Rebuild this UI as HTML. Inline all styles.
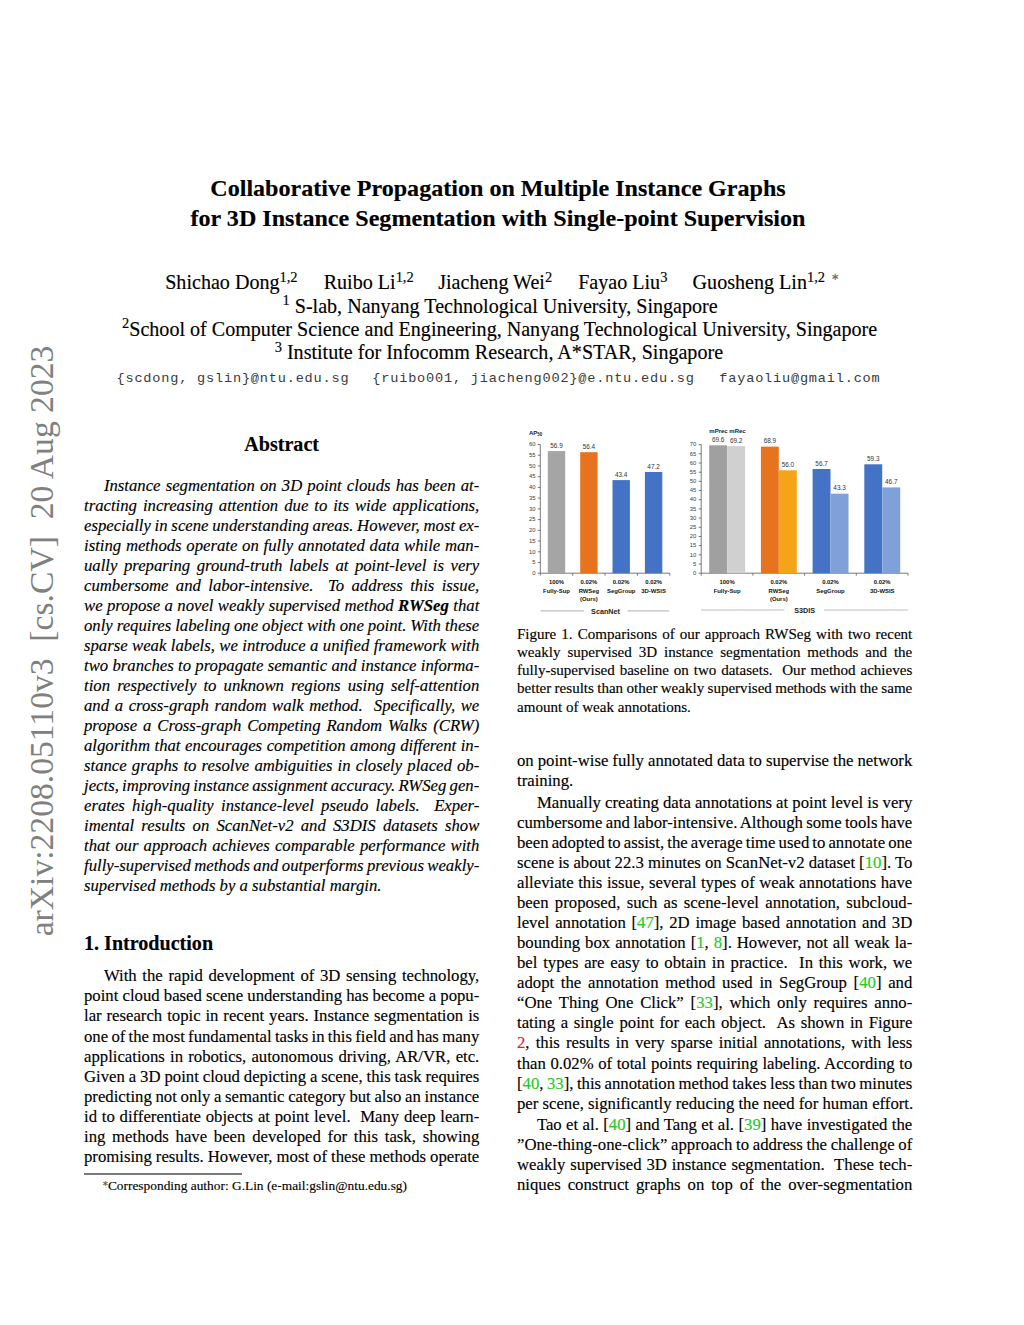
<!DOCTYPE html><html><head><meta charset="utf-8"><style>
html,body{margin:0;padding:0;background:#fff}
body{width:1024px;height:1325px;position:relative;overflow:hidden;color:#000}
.s{position:absolute;font-family:"Liberation Serif",serif;line-height:0;white-space:nowrap;-webkit-text-stroke-width:0.15px}
.b{font-weight:bold}
.i{font-style:italic}
.c{text-align:center}
.j{text-align:justify;text-align-last:justify}
.m{position:absolute;font-family:"Liberation Mono",monospace;line-height:0;white-space:pre;color:#3a3a3a}
sup{font-size:72%;vertical-align:0;position:relative;top:-0.52em;line-height:0}
.star{font-size:48%;position:relative;top:-0.9em;margin-left:6px;color:#666}
.fs{font-size:58%;position:relative;top:-0.5em;color:#555;letter-spacing:-0.6px}
.g{color:#22cc22}
.r{color:#d41f3a}
.rule{position:absolute;height:1.7px;background:#7a7a7a}
.arx{position:absolute;left:0;top:0;font-family:"Liberation Serif",serif;font-size:33.62px;color:#808080;white-space:pre;line-height:0;
 transform-origin:0 0;transform:translate(42.2px,936.3px) rotate(-90deg)}
.ch{position:absolute;left:0;top:0}
.ch text{font-family:"Liberation Sans",sans-serif}
.ax{stroke:#6a6a6a;stroke-width:0.9}
.sep{stroke:#bfbfbf;stroke-width:1.2}
.yl{font-size:5.9px;fill:#3c3c3c;text-anchor:end}
.vl{font-size:6.4px;fill:#333;text-anchor:middle}
.xl{font-size:5.9px;fill:#111;text-anchor:middle;font-weight:bold}
.hd{font-size:6px;fill:#222;font-weight:bold}
.dn{font-size:7.2px;fill:#222;text-anchor:middle;font-weight:bold}
</style></head><body>
<div class="s b c" style="left:84.00px;top:188.27px;font-size:24.09px;width:828.00px;">Collaborative Propagation on Multiple Instance Graphs</div>
<div class="s b c" style="left:84.00px;top:217.97px;font-size:24.09px;width:828.00px;">for 3D Instance Segmentation with Single-point Supervision</div>
<div class="s" style="left:165.20px;top:282.12px;font-size:20.08px;">Shichao Dong<sup>1,2</sup></div>
<div class="s" style="left:323.70px;top:282.12px;font-size:20.08px;">Ruibo Li<sup>1,2</sup></div>
<div class="s" style="left:438.20px;top:282.12px;font-size:20.08px;">Jiacheng Wei<sup>2</sup></div>
<div class="s" style="left:578.20px;top:282.12px;font-size:20.08px;">Fayao Liu<sup>3</sup></div>
<div class="s" style="left:692.60px;top:282.12px;font-size:20.08px;">Guosheng Lin<sup>1,2</sup><span class="star">∗</span></div>
<div class="s" style="left:282.50px;top:305.52px;font-size:20.08px;"><sup>1</sup> S-lab, Nanyang Technological University, Singapore</div>
<div class="s" style="left:122.00px;top:328.62px;font-size:20.08px;"><sup>2</sup>School of Computer Science and Engineering, Nanyang Technological University, Singapore</div>
<div class="s" style="left:274.70px;top:352.32px;font-size:20.08px;"><sup>3</sup> Institute for Infocomm Research, A*STAR, Singapore</div>
<div class="m" style="left:116.50px;top:378.68px;font-size:13.60px;letter-spacing:0.80px">{scdong, gslin}@ntu.edu.sg</div>
<div class="m" style="left:372.30px;top:378.68px;font-size:13.60px;letter-spacing:0.80px">{ruibo001, jiacheng002}@e.ntu.edu.sg</div>
<div class="m" style="left:719.30px;top:378.68px;font-size:13.60px;letter-spacing:0.80px">fayaoliu@gmail.com</div>
<div class="arx">arXiv:2208.05110v3  [cs.CV]  20 Aug 2023</div>
<div class="s b c" style="left:84.00px;top:443.82px;font-size:20.08px;width:395.30px;">Abstract</div>
<div class="s i j" style="left:103.90px;top:485.85px;font-size:16.73px;width:375.40px;">Instance segmentation on 3D point clouds has been at-</div>
<div class="s i j" style="left:84.00px;top:505.87px;font-size:16.73px;width:395.30px;">tracting increasing attention due to its wide applications,</div>
<div class="s i j" style="left:84.00px;top:525.88px;font-size:16.73px;width:395.30px;word-spacing:-0.82px;">especially in scene understanding areas. However, most ex-</div>
<div class="s i j" style="left:84.00px;top:545.90px;font-size:16.73px;width:395.30px;">isting methods operate on fully annotated data while man-</div>
<div class="s i j" style="left:84.00px;top:565.91px;font-size:16.73px;width:395.30px;">ually preparing ground-truth labels at point-level is very</div>
<div class="s i j" style="left:84.00px;top:585.93px;font-size:16.73px;width:395.30px;">cumbersome and labor-intensive.&nbsp; To address this issue,</div>
<div class="s i j" style="left:84.00px;top:605.94px;font-size:16.73px;width:395.30px;">we propose a novel weakly supervised method <b>RWSeg</b> that</div>
<div class="s i j" style="left:84.00px;top:625.96px;font-size:16.73px;width:395.30px;word-spacing:-0.61px;">only requires labeling one object with one point. With these</div>
<div class="s i j" style="left:84.00px;top:645.97px;font-size:16.73px;width:395.30px;">sparse weak labels, we introduce a unified framework with</div>
<div class="s i j" style="left:84.00px;top:665.99px;font-size:16.73px;width:395.30px;">two branches to propagate semantic and instance informa-</div>
<div class="s i j" style="left:84.00px;top:686.00px;font-size:16.73px;width:395.30px;">tion respectively to unknown regions using self-attention</div>
<div class="s i j" style="left:84.00px;top:706.02px;font-size:16.73px;width:395.30px;">and a cross-graph random walk method.&nbsp; Specifically, we</div>
<div class="s i j" style="left:84.00px;top:726.03px;font-size:16.73px;width:395.30px;">propose a Cross-graph Competing Random Walks (CRW)</div>
<div class="s i j" style="left:84.00px;top:746.05px;font-size:16.73px;width:395.30px;">algorithm that encourages competition among different in-</div>
<div class="s i j" style="left:84.00px;top:766.06px;font-size:16.73px;width:395.30px;">stance graphs to resolve ambiguities in closely placed ob-</div>
<div class="s i j" style="left:84.00px;top:786.08px;font-size:16.73px;width:395.30px;word-spacing:-1.38px;">jects, improving instance assignment accuracy. RWSeg gen-</div>
<div class="s i j" style="left:84.00px;top:806.09px;font-size:16.73px;width:395.30px;">erates high-quality instance-level pseudo labels.&nbsp; Exper-</div>
<div class="s i j" style="left:84.00px;top:826.11px;font-size:16.73px;width:395.30px;">imental results on ScanNet-v2 and S3DIS datasets show</div>
<div class="s i j" style="left:84.00px;top:846.12px;font-size:16.73px;width:395.30px;">that our approach achieves comparable performance with</div>
<div class="s i j" style="left:84.00px;top:866.14px;font-size:16.73px;width:395.30px;word-spacing:-1.18px;">fully-supervised methods and outperforms previous weakly-</div>
<div class="s i" style="left:84.00px;top:886.15px;font-size:16.73px;">supervised methods by a substantial margin.</div>
<div class="s b" style="left:84.00px;top:942.82px;font-size:20.08px;">1. Introduction</div>
<div class="s j" style="left:103.90px;top:976.35px;font-size:16.73px;width:375.40px;">With the rapid development of 3D sensing technology,</div>
<div class="s j" style="left:84.00px;top:996.41px;font-size:16.73px;width:395.30px;word-spacing:-0.43px;">point cloud based scene understanding has become a popu-</div>
<div class="s j" style="left:84.00px;top:1016.47px;font-size:16.73px;width:395.30px;">lar research topic in recent years. Instance segmentation is</div>
<div class="s j" style="left:84.00px;top:1036.53px;font-size:16.73px;width:395.30px;word-spacing:-1.31px;">one of the most fundamental tasks in this field and has many</div>
<div class="s j" style="left:84.00px;top:1056.59px;font-size:16.73px;width:395.30px;">applications in robotics, autonomous driving, AR/VR, etc.</div>
<div class="s j" style="left:84.00px;top:1076.65px;font-size:16.73px;width:395.30px;word-spacing:-0.66px;">Given a 3D point cloud depicting a scene, this task requires</div>
<div class="s j" style="left:84.00px;top:1096.71px;font-size:16.73px;width:395.30px;word-spacing:-0.89px;">predicting not only a semantic category but also an instance</div>
<div class="s j" style="left:84.00px;top:1116.77px;font-size:16.73px;width:395.30px;">id to differentiate objects at point level.&nbsp; Many deep learn-</div>
<div class="s j" style="left:84.00px;top:1136.83px;font-size:16.73px;width:395.30px;">ing methods have been developed for this task, showing</div>
<div class="s j" style="left:84.00px;top:1156.89px;font-size:16.73px;width:395.30px;word-spacing:-0.55px;">promising results. However, most of these methods operate</div>
<div class="rule" style="left:84px;top:1173.2px;width:158px"></div>
<div class="s" style="left:101.50px;top:1186.18px;font-size:13.39px;"><span class="fs">∗</span>Corresponding author: G.Lin (e-mail:gslin@ntu.edu.sg)</div>
<div class="s j" style="left:517.00px;top:633.82px;font-size:15.06px;width:395.30px;">Figure 1. Comparisons of our approach RWSeg with two recent</div>
<div class="s j" style="left:517.00px;top:652.00px;font-size:15.06px;width:395.30px;">weakly supervised 3D instance segmentation methods and the</div>
<div class="s j" style="left:517.00px;top:670.18px;font-size:15.06px;width:395.30px;">fully-supervised baseline on two datasets.&nbsp; Our method achieves</div>
<div class="s j" style="left:517.00px;top:688.36px;font-size:15.06px;width:395.30px;word-spacing:-0.82px;">better results than other weakly supervised methods with the same</div>
<div class="s" style="left:517.00px;top:706.54px;font-size:15.06px;">amount of weak annotations.</div>
<div class="s j" style="left:517.00px;top:761.25px;font-size:16.73px;width:395.30px;word-spacing:-0.55px;">on point-wise fully annotated data to supervise the network</div>
<div class="s" style="left:517.00px;top:781.31px;font-size:16.73px;">training.</div>
<div class="s j" style="left:536.90px;top:802.75px;font-size:16.73px;width:375.40px;word-spacing:-0.48px;">Manually creating data annotations at point level is very</div>
<div class="s j" style="left:517.00px;top:822.81px;font-size:16.73px;width:395.30px;word-spacing:-1.25px;">cumbersome and labor-intensive. Although some tools have</div>
<div class="s j" style="left:517.00px;top:842.87px;font-size:16.73px;width:395.30px;word-spacing:-1.49px;">been adopted to assist, the average time used to annotate one</div>
<div class="s j" style="left:517.00px;top:862.93px;font-size:16.73px;width:395.30px;word-spacing:-0.53px;">scene is about 22.3 minutes on ScanNet-v2 dataset [<span class="g">10</span>]. To</div>
<div class="s j" style="left:517.00px;top:882.99px;font-size:16.73px;width:395.30px;">alleviate this issue, several types of weak annotations have</div>
<div class="s j" style="left:517.00px;top:903.05px;font-size:16.73px;width:395.30px;">been proposed, such as scene-level annotation, subcloud-</div>
<div class="s j" style="left:517.00px;top:923.11px;font-size:16.73px;width:395.30px;">level annotation [<span class="g">47</span>], 2D image based annotation and 3D</div>
<div class="s j" style="left:517.00px;top:943.17px;font-size:16.73px;width:395.30px;">bounding box annotation [<span class="g">1</span>, <span class="g">8</span>]. However, not all weak la-</div>
<div class="s j" style="left:517.00px;top:963.23px;font-size:16.73px;width:395.30px;">bel types are easy to obtain in practice.&nbsp; In this work, we</div>
<div class="s j" style="left:517.00px;top:983.29px;font-size:16.73px;width:395.30px;">adopt the annotation method used in SegGroup [<span class="g">40</span>] and</div>
<div class="s j" style="left:517.00px;top:1003.35px;font-size:16.73px;width:395.30px;">“One Thing One Click” [<span class="g">33</span>], which only requires anno-</div>
<div class="s j" style="left:517.00px;top:1023.41px;font-size:16.73px;width:395.30px;">tating a single point for each object.&nbsp; As shown in Figure</div>
<div class="s j" style="left:517.00px;top:1043.47px;font-size:16.73px;width:395.30px;"><span class="r">2</span>, this results in very sparse initial annotations, with less</div>
<div class="s j" style="left:517.00px;top:1063.53px;font-size:16.73px;width:395.30px;">than 0.02% of total points requiring labeling. According to</div>
<div class="s j" style="left:517.00px;top:1083.59px;font-size:16.73px;width:395.30px;word-spacing:-1.11px;">[<span class="g">40</span>, <span class="g">33</span>], this annotation method takes less than two minutes</div>
<div class="s" style="left:517.00px;top:1103.65px;font-size:16.73px;">per scene, significantly reducing the need for human effort.</div>
<div class="s j" style="left:536.90px;top:1125.15px;font-size:16.73px;width:375.40px;">Tao et al. [<span class="g">40</span>] and Tang et al. [<span class="g">39</span>] have investigated the</div>
<div class="s j" style="left:517.00px;top:1145.21px;font-size:16.73px;width:395.30px;word-spacing:-0.90px;">”One-thing-one-click” approach to address the challenge of</div>
<div class="s j" style="left:517.00px;top:1165.27px;font-size:16.73px;width:395.30px;">weakly supervised 3D instance segmentation.&nbsp; These tech-</div>
<div class="s j" style="left:517.00px;top:1185.33px;font-size:16.73px;width:395.30px;">niques construct graphs on top of the over-segmentation</div>
<svg class="ch" width="1024" height="1325" viewBox="0 0 1024 1325"><line x1="540.3" y1="444.5" x2="540.3" y2="573.2" class="ax"/><line x1="540.3" y1="573.2" x2="669.8" y2="573.2" class="ax"/><line x1="537.8" y1="573.2" x2="540.3" y2="573.2" class="ax"/><text x="535.5" y="574.9" class="yl">0</text><line x1="537.8" y1="562.5" x2="540.3" y2="562.5" class="ax"/><text x="535.5" y="564.2" class="yl">5</text><line x1="537.8" y1="551.8" x2="540.3" y2="551.8" class="ax"/><text x="535.5" y="553.5" class="yl">10</text><line x1="537.8" y1="541.0" x2="540.3" y2="541.0" class="ax"/><text x="535.5" y="542.7" class="yl">15</text><line x1="537.8" y1="530.3" x2="540.3" y2="530.3" class="ax"/><text x="535.5" y="532.0" class="yl">20</text><line x1="537.8" y1="519.6" x2="540.3" y2="519.6" class="ax"/><text x="535.5" y="521.3" class="yl">25</text><line x1="537.8" y1="508.9" x2="540.3" y2="508.9" class="ax"/><text x="535.5" y="510.6" class="yl">30</text><line x1="537.8" y1="498.1" x2="540.3" y2="498.1" class="ax"/><text x="535.5" y="499.8" class="yl">35</text><line x1="537.8" y1="487.4" x2="540.3" y2="487.4" class="ax"/><text x="535.5" y="489.1" class="yl">40</text><line x1="537.8" y1="476.7" x2="540.3" y2="476.7" class="ax"/><text x="535.5" y="478.4" class="yl">45</text><line x1="537.8" y1="465.9" x2="540.3" y2="465.9" class="ax"/><text x="535.5" y="467.6" class="yl">50</text><line x1="537.8" y1="455.2" x2="540.3" y2="455.2" class="ax"/><text x="535.5" y="456.9" class="yl">55</text><line x1="537.8" y1="444.5" x2="540.3" y2="444.5" class="ax"/><text x="535.5" y="446.2" class="yl">60</text><line x1="540.3" y1="573.2" x2="540.3" y2="575.7" class="ax"/><line x1="572.7" y1="573.2" x2="572.7" y2="575.7" class="ax"/><line x1="605.0" y1="573.2" x2="605.0" y2="575.7" class="ax"/><line x1="637.4" y1="573.2" x2="637.4" y2="575.7" class="ax"/><line x1="669.8" y1="573.2" x2="669.8" y2="575.7" class="ax"/><rect x="547.8" y="451.1" width="17.4" height="122.1" fill="#a5a5a5"/><text x="556.5" y="448.1" class="vl">56.9</text><rect x="580.2" y="452.2" width="17.4" height="121.0" fill="#e8731f"/><text x="588.9" y="449.2" class="vl">56.4</text><rect x="612.5" y="480.1" width="17.4" height="93.1" fill="#4472c4"/><text x="621.2" y="477.1" class="vl">43.4</text><rect x="644.9" y="472.0" width="17.4" height="101.2" fill="#4472c4"/><text x="653.6" y="469.0" class="vl">47.2</text><text x="529" y="435.4" class="hd">AP<tspan font-size="4.5" dy="0.8">50</tspan></text><text x="556.5" y="584" class="xl">100%</text><text x="556.5" y="592.7" class="xl">Fully-Sup</text><text x="588.9" y="584" class="xl">0.02%</text><text x="588.9" y="592.7" class="xl">RWSeg</text><text x="588.9" y="600.5" class="xl">(Ours)</text><text x="621.2" y="584" class="xl">0.02%</text><text x="621.2" y="592.7" class="xl">SegGroup</text><text x="653.6" y="584" class="xl">0.02%</text><text x="653.6" y="592.7" class="xl">3D-WSIS</text><line x1="540.7" y1="610.9" x2="583.9" y2="610.9" class="sep"/><line x1="627.5" y1="610.9" x2="669.2" y2="610.9" class="sep"/><text x="605.5" y="613.8" class="dn">ScanNet</text><line x1="701.2" y1="444.6" x2="701.2" y2="573.2" class="ax"/><line x1="701.2" y1="573.2" x2="908" y2="573.2" class="ax"/><line x1="698.7" y1="573.2" x2="701.2" y2="573.2" class="ax"/><text x="696.3" y="574.9" class="yl">0</text><line x1="698.7" y1="564.0" x2="701.2" y2="564.0" class="ax"/><text x="696.3" y="565.7" class="yl">5</text><line x1="698.7" y1="554.8" x2="701.2" y2="554.8" class="ax"/><text x="696.3" y="556.5" class="yl">10</text><line x1="698.7" y1="545.6" x2="701.2" y2="545.6" class="ax"/><text x="696.3" y="547.3" class="yl">15</text><line x1="698.7" y1="536.5" x2="701.2" y2="536.5" class="ax"/><text x="696.3" y="538.2" class="yl">20</text><line x1="698.7" y1="527.3" x2="701.2" y2="527.3" class="ax"/><text x="696.3" y="529.0" class="yl">25</text><line x1="698.7" y1="518.1" x2="701.2" y2="518.1" class="ax"/><text x="696.3" y="519.8" class="yl">30</text><line x1="698.7" y1="508.9" x2="701.2" y2="508.9" class="ax"/><text x="696.3" y="510.6" class="yl">35</text><line x1="698.7" y1="499.7" x2="701.2" y2="499.7" class="ax"/><text x="696.3" y="501.4" class="yl">40</text><line x1="698.7" y1="490.5" x2="701.2" y2="490.5" class="ax"/><text x="696.3" y="492.2" class="yl">45</text><line x1="698.7" y1="481.3" x2="701.2" y2="481.3" class="ax"/><text x="696.3" y="483.0" class="yl">50</text><line x1="698.7" y1="472.2" x2="701.2" y2="472.2" class="ax"/><text x="696.3" y="473.9" class="yl">55</text><line x1="698.7" y1="463.0" x2="701.2" y2="463.0" class="ax"/><text x="696.3" y="464.7" class="yl">60</text><line x1="698.7" y1="453.8" x2="701.2" y2="453.8" class="ax"/><text x="696.3" y="455.5" class="yl">65</text><line x1="698.7" y1="444.6" x2="701.2" y2="444.6" class="ax"/><text x="696.3" y="446.3" class="yl">70</text><line x1="701.2" y1="573.2" x2="701.2" y2="575.7" class="ax"/><line x1="752.9" y1="573.2" x2="752.9" y2="575.7" class="ax"/><line x1="804.6" y1="573.2" x2="804.6" y2="575.7" class="ax"/><line x1="856.3" y1="573.2" x2="856.3" y2="575.7" class="ax"/><line x1="908.0" y1="573.2" x2="908.0" y2="575.7" class="ax"/><rect x="709.2" y="445.3" width="17.9" height="127.9" fill="#a0a0a0"/><text x="718.2" y="441.8" class="vl">69.6</text><rect x="727.2" y="446.1" width="17.9" height="127.1" fill="#d0d0d0"/><text x="736.2" y="442.6" class="vl">69.2</text><rect x="760.9" y="446.6" width="17.9" height="126.6" fill="#e8731f"/><text x="769.9" y="443.1" class="vl">68.9</text><rect x="778.9" y="470.3" width="17.9" height="102.9" fill="#f5a418"/><text x="787.9" y="466.8" class="vl">56.0</text><rect x="812.6" y="469.0" width="17.9" height="104.2" fill="#4472c4"/><text x="821.6" y="465.5" class="vl">56.7</text><rect x="830.6" y="493.7" width="17.9" height="79.5" fill="#7fa0d8"/><text x="839.6" y="490.2" class="vl">43.3</text><rect x="864.3" y="464.3" width="17.9" height="108.9" fill="#4472c4"/><text x="873.3" y="460.8" class="vl">59.3</text><rect x="882.3" y="487.4" width="17.9" height="85.8" fill="#7fa0d8"/><text x="891.3" y="483.9" class="vl">46.7</text><text x="727.5" y="432.5" class="hd" text-anchor="middle">mPrec mRec</text><text x="727.1" y="584" class="xl">100%</text><text x="727.1" y="592.7" class="xl">Fully-Sup</text><text x="778.8" y="584" class="xl">0.02%</text><text x="778.8" y="592.7" class="xl">RWSeg</text><text x="778.8" y="600.5" class="xl">(Ours)</text><text x="830.5" y="584" class="xl">0.02%</text><text x="830.5" y="592.7" class="xl">SegGroup</text><text x="882.2" y="584" class="xl">0.02%</text><text x="882.2" y="592.7" class="xl">3D-WSIS</text><line x1="701" y1="610" x2="784.4" y2="610" class="sep"/><line x1="824" y1="610" x2="908" y2="610" class="sep"/><text x="804.6" y="613" class="dn">S3DIS</text></svg>
</body></html>
